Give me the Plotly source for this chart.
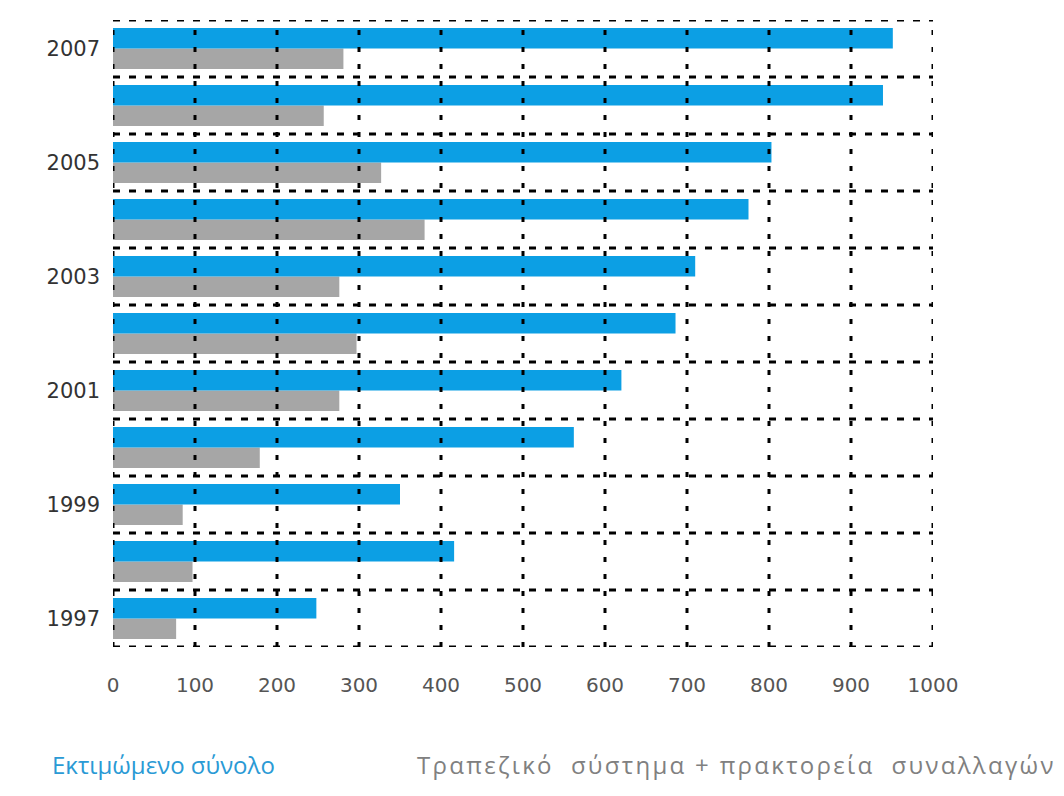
import plotly.graph_objects as go

years = [1997, 1998, 1999, 2000, 2001, 2002, 2003, 2004, 2005, 2006, 2007]
estimated_total = [248, 416, 350, 562, 620, 686, 710, 775, 803, 939, 951]
banking_plus_agencies = [77, 97, 85, 179, 276, 297, 276, 380, 327, 257, 281]
x_ticks = [0, 100, 200, 300, 400, 500, 600, 700, 800, 900, 1000]
y_label_years = [1997, 1999, 2001, 2003, 2005, 2007]
legend_blue = "Εκτιμώμενο σύνολο"
legend_gray = "Τραπεζικό\u00a0 σύστημα + πρακτορεία\u00a0 συναλλαγών"

BLUE = "#0c9fe4"
GRAY = "#a6a6a6"

fig = go.Figure()
# gray first so that in horizontal grouping the blue bar sits on top
fig.add_trace(go.Bar(y=years, x=banking_plus_agencies, orientation="h",
                     marker=dict(color=GRAY, line=dict(width=0)),
                     name=legend_gray, showlegend=False))
fig.add_trace(go.Bar(y=years, x=estimated_total, orientation="h",
                     marker=dict(color=BLUE, line=dict(width=0)),
                     name=legend_blue, showlegend=False))

shapes = []
for xv in x_ticks:
    shapes.append(dict(type="line", xref="x", yref="y domain", x0=xv, x1=xv, y0=0, y1=1,
                       line=dict(color="black", width=3, dash="5px,12px"), layer="above"))
bounds = [years[0] - 0.5] + [y + 0.5 for y in years]
for yb in bounds:
    shapes.append(dict(type="line", xref="x domain", yref="y", x0=0, x1=1, y0=yb, y1=yb,
                       line=dict(color="black", width=3, dash="7px,9px"), layer="above"))

fig.update_layout(
    width=1048, height=780,
    margin=dict(l=105, r=123, t=12, b=141),
    paper_bgcolor="white", plot_bgcolor="white",
    barmode="group", bargap=0.28, bargroupgap=0.0,
    shapes=shapes,
    xaxis=dict(range=[0, 1000], tickvals=x_ticks, ticktext=[str(v) for v in x_ticks],
               showgrid=False, zeroline=False, showline=False,
               ticks="", ticklabelstandoff=24,
               tickfont=dict(family="DejaVu Sans", size=20, color="#555555")),
    yaxis=dict(range=[years[0] - 0.5, years[-1] + 0.5], tickvals=y_label_years,
               ticktext=[str(v) for v in y_label_years],
               showgrid=False, zeroline=False, showline=False,
               ticks="", ticklabelstandoff=12,
               tickfont=dict(family="DejaVu Sans", size=21, color="#333333")),
    annotations=[
        dict(text=legend_blue, xref="paper", yref="paper", x=-0.077, y=-0.188,
             xanchor="left", yanchor="middle", showarrow=False,
             font=dict(family="Open Sans", size=24, color="#2a9ad5")),
        dict(text='<span style="letter-spacing:2.3px">' + legend_gray + '</span>',
             xref="paper", yref="paper", x=0.368, y=-0.188,
             xanchor="left", yanchor="middle", showarrow=False,
             font=dict(family="Open Sans", size=24, color="#808080")),
    ],
)

fig.write_html("out.html")
